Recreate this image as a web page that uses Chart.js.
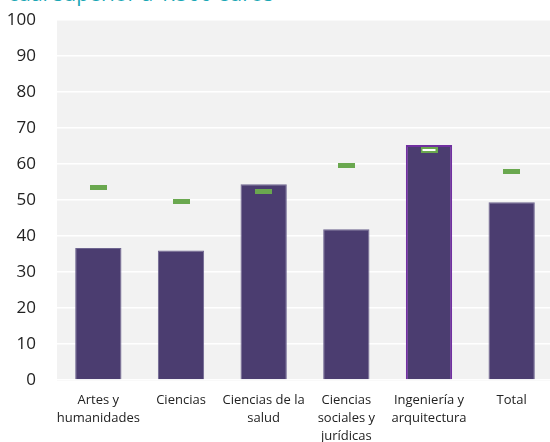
<!DOCTYPE html>
<html>
<head>
<meta charset="utf-8">
<script src="https://cdn.jsdelivr.net/npm/chart.js@4.4.1/dist/chart.umd.min.js"></script>
<style>
  html, body { margin: 0; padding: 0; background: #fff; overflow: hidden; }
  #wrap { position: relative; width: 550px; height: 442px; overflow: hidden; }
  #title {
    position: absolute; left: 8px; top: -21px;
    font-family: "Open Sans", sans-serif; font-size: 21px; color: #1aa7b5;
    white-space: nowrap;
  }
  canvas { position: absolute; left: 0; top: 0; }
</style>
</head>
<body>
<div id="wrap">
  <div id="title">cual superior a 1.500 euros</div>
  <canvas id="chart" width="553" height="442"></canvas>
</div>
<script>
const categories = [
  ["Artes y", "humanidades"],
  "Ciencias",
  ["Ciencias de la", "salud"],
  ["Ciencias", "sociales y", "jurídicas"],
  ["Ingeniería y", "arquitectura"],
  "Total",
];
const barValues = [36.7, 36.0, 54.4, 41.9, 65.3, 49.4];
const markerValues = [53.6, 49.7, 52.5, 59.7, 63.9, 57.8];
const highlightIndex = 4;

const BAR_COLOR = "#4b3d70";
const BAR_EDGE = "#6e6590";
const HIGHLIGHT_BORDER = "#7030a0";
const GREEN = "#6aa84f";

function makeMarker(highlight) {
  const c = document.createElement("canvas");
  c.width = 17;
  c.height = highlight ? 6 : 5;
  const ctx = c.getContext("2d");
  ctx.fillStyle = GREEN;
  ctx.fillRect(0, 0, c.width, c.height);
  if (highlight) {
    ctx.fillStyle = "#ffffff";
    ctx.fillRect(2, 2, c.width - 4, c.height - 4);
  }
  return c;
}

const plainMarker = makeMarker(false);
const hlMarker = makeMarker(true);

const plotBackground = {
  id: "plotBackground",
  beforeDraw(chart) {
    const { ctx, chartArea } = chart;
    ctx.save();
    ctx.fillStyle = "#f2f2f2";
    ctx.fillRect(chartArea.left, chartArea.top, chartArea.right - chartArea.left, chartArea.bottom - chartArea.top + 1);
    ctx.restore();
  },
};

new Chart(document.getElementById("chart"), {
  data: {
    labels: categories,
    datasets: [
      {
        type: "bar",
        data: barValues,
        backgroundColor: BAR_COLOR,
        borderColor: barValues.map((v, i) => (i === highlightIndex ? HIGHLIGHT_BORDER : BAR_EDGE)),
        borderWidth: barValues.map((v, i) => (i === highlightIndex ? 2 : 1)),
        borderSkipped: "bottom",
        barPercentage: 0.56,
        categoryPercentage: 1,
        order: 2,
      },
      {
        type: "line",
        data: markerValues,
        showLine: false,
        pointStyle: markerValues.map((v, i) => (i === highlightIndex ? hlMarker : plainMarker)),
        pointRadius: 9,
        order: 1,
      },
    ],
  },
  options: {
    responsive: false,
    animation: false,
    layout: { autoPadding: false, padding: { top: 20, right: 0, left: 0, bottom: 0 } },
    plugins: {
      legend: { display: false },
      tooltip: { enabled: false },
    },
    scales: {
      x: {
        grid: { display: false },
        border: { display: false },
        ticks: {
          color: "#222",
          padding: 4,
          maxRotation: 0,
          autoSkip: false,
          font: { family: "'Open Sans', sans-serif", size: 13, lineHeight: 1.35 },
        },
        afterFit(scale) {
          scale.height = 62;
          scale.paddingLeft = 0;
          scale.paddingRight = 0;
        },
      },
      y: {
        min: 0,
        max: 100,
        grid: { color: "#ffffff", lineWidth: 1.5, drawTicks: false },
        border: { display: false },
        ticks: {
          stepSize: 10,
          color: "#222",
          padding: 21,
          font: { family: "'Open Sans', sans-serif", size: 17 },
        },
        afterFit(scale) {
          scale.width = 57;
          scale.paddingTop = 0;
          scale.paddingBottom = 0;
        },
      },
    },
  },
  plugins: [plotBackground],
});
</script>
</body>
</html>
